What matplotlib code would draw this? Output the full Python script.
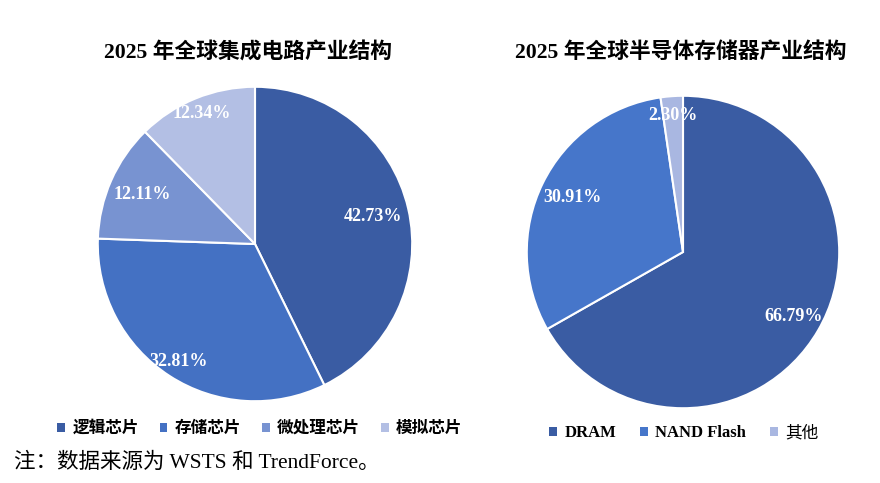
import matplotlib
matplotlib.use("Agg")
import matplotlib.pyplot as plt
import numpy as np

plt.rcParams['font.family'] = ['Liberation Serif', 'Noto Sans CJK SC', 'DejaVu Sans']

# Data
ic_title = "2025 年全球集成电路产业结构"
ic_labels = ["逻辑芯片", "存储芯片", "微处理芯片", "模拟芯片"]
ic_values = [42.73, 32.81, 12.11, 12.34]

mem_title = "2025 年全球半导体存储器产业结构"
mem_labels = ["DRAM", "NAND Flash", "其他"]
mem_values = [66.79, 30.91, 2.30]

note = "注：数据来源为 WSTS 和 TrendForce。"

# Style
ic_colors = ["#3A5CA3", "#4471C3", "#7893D1", "#B3BFE4"]
mem_colors = ["#3A5CA3", "#4676CA", "#A9B7E1"]
ic_pctdist = [0.77, 0.89, 0.785, 0.895]
mem_pctdist = [0.82, 0.79, 0.875]

fig = plt.figure(figsize=(8.8, 4.83), dpi=100)
fig.patch.set_facecolor("white")


def draw(rect, values, colors, dists):
    ax = fig.add_axes(rect)
    wedges, texts, autotexts = ax.pie(
        values, colors=colors, startangle=90, counterclock=False,
        autopct=lambda p: f"{p:.2f}%", pctdistance=1.0,
        wedgeprops=dict(edgecolor="white", linewidth=1.5),
        textprops=dict(color="white", fontsize=13, fontweight="bold",
                       family=['Liberation Serif', 'DejaVu Sans']))
    for t, d in zip(autotexts, dists):
        x, y = t.get_position()
        t.set_position((x * d, y * d))
    ax.set_xlim(-1.005, 1.005)
    ax.set_ylim(-1.005, 1.005)
    ax.set_aspect("equal")
    ax.axis("off")
    return wedges


w1 = draw([97 / 880, (483 - 244 - 158) / 483, 316 / 880, 316 / 483],
          ic_values, ic_colors, ic_pctdist)
w2 = draw([526 / 880, (483 - 252 - 157) / 483, 314 / 880, 314 / 483],
          mem_values, mem_colors, mem_pctdist)

fig.text(248 / 880, 1 - 53 / 483, ic_title, ha="center", va="center",
         fontsize=15.7, fontweight="bold")
fig.text(681 / 880, 1 - 53 / 483, mem_title, ha="center", va="center",
         fontsize=15.7, fontweight="bold")

leg1 = fig.legend(w1, ic_labels, loc="center", bbox_to_anchor=(260 / 880, 1 - 429 / 483),
                  ncol=4, frameon=False, fontsize=12, handlelength=0.45, handleheight=0.45,
                  handletextpad=0.45, columnspacing=1.25)
for t in leg1.get_texts():
    t.set_fontweight("bold")
for h in leg1.legend_handles:
    h.set_edgecolor("none")

leg2 = fig.legend(w2, mem_labels, loc="center", bbox_to_anchor=(684 / 880, 1 - 433 / 483),
                  ncol=3, frameon=False, fontsize=12, handlelength=0.45, handleheight=0.45,
                  handletextpad=0.45, columnspacing=1.45)
for t in leg2.get_texts()[:2]:
    t.set_fontweight("bold")
for h in leg2.legend_handles:
    h.set_edgecolor("none")

fig.text(14 / 880, 1 - 463 / 483, note, ha="left", va="center", fontsize=15.5)

fig.savefig("out.png", dpi=100, facecolor="white")
